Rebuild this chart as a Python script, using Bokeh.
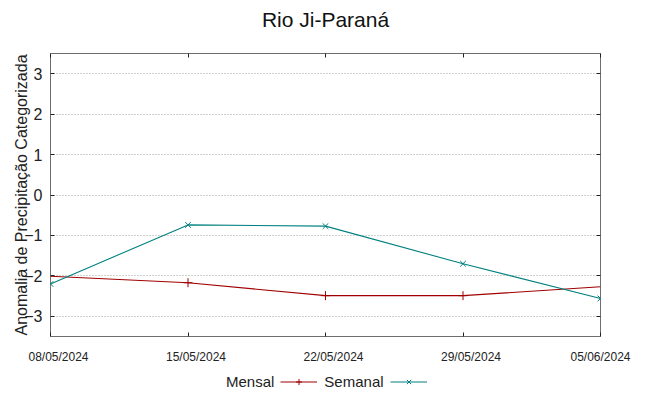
import pandas as pd
from bokeh.plotting import figure
from bokeh.layouts import column
from bokeh.models import (Range1d, LinearAxis, DatetimeAxis, FixedTicker, DatetimeTickFormatter,
                          Legend, LegendItem, Label)
from bokeh.embed import file_html
from bokeh.resources import INLINE

# ---- data ----
dates = ["2024-05-08", "2024-05-15", "2024-05-22", "2024-05-29", "2024-06-05"]
mensal = [-2.01, -2.17, -2.49, -2.49, -2.27]
semanal = [-2.20, -0.74, -0.77, -1.70, -2.56]
y_ticks = [-3, -2, -1, 0, 1, 2, 3]
title_text = "Rio Ji-Paraná"
y_label = "Anomalia de Precipitação Categorizada"
series_names = ["Mensal", "Semanal"]

x = pd.to_datetime(dates)
x_ms = [int(t.value // 10**6) for t in x]

RED = "#a00000"
TEAL = "#008080"
FONT = "Liberation Sans"
TXT = "#222222"

FRAME_W = 550
span = x_ms[-1] - x_ms[0]
shift = 8 * span / FRAME_W  # gnuplot draws date labels ~8px right of ticks
# label positions: shifted right (same calendar day); the last one must stay inside the range
label_ticks = [t + shift for t in x_ms[:-1]] + [x_ms[-1]]


def strip(h, yr):
    f = figure(width=649, height=h, output_backend="svg", toolbar_location=None,
               x_range=Range1d(0, 1), y_range=Range1d(0, yr),
               x_axis_location=None, y_axis_location=None,
               min_border_left=0, min_border_right=0, min_border_top=0, min_border_bottom=0)
    f.grid.visible = False
    f.outline_line_color = None
    return f


# ---- title strip ----
tf = strip(36, 36)
tf.add_layout(Label(x=0.5, y=17.5, text=title_text, text_align="center",
                    text_baseline="middle", text_font=FONT, text_font_size="21px",
                    text_color="#111111"))

# ---- main plot ----
p = figure(width=649, height=330, output_backend="svg", toolbar_location=None,
           x_axis_type="datetime",
           x_range=Range1d(x_ms[0], x_ms[-1]), y_range=Range1d(-3.5, 3.5),
           min_border_left=50, min_border_right=49, min_border_top=17, min_border_bottom=30)

p.outline_line_color = "#6e6e6e"
p.outline_line_width = 1

p.xgrid.visible = False
p.ygrid.ticker = FixedTicker(ticks=y_ticks)
p.ygrid.grid_line_color = "#a0a0a0"
p.ygrid.grid_line_dash = "1 2"
p.ygrid.grid_line_width = 1

ya = p.yaxis[0]
ya.ticker = FixedTicker(ticks=y_ticks)
ya.major_tick_in = 4
ya.major_tick_out = 0
ya.minor_tick_in = 0
ya.minor_tick_out = 0
ya.axis_line_color = None
ya.major_tick_line_color = TXT
ya.major_label_text_font = FONT
ya.major_label_text_font_size = "16px"
ya.major_label_text_color = TXT
ya.major_label_standoff = 8
ya.axis_label = y_label
ya.axis_label_text_font = FONT
ya.axis_label_text_font_size = "16px"
ya.axis_label_text_font_style = "normal"
ya.axis_label_text_color = TXT
ya.axis_label_standoff = -9

xa = p.xaxis[0]
xa.ticker = FixedTicker(ticks=x_ms)
xa.major_tick_in = 4
xa.major_tick_out = 0
xa.minor_tick_in = 0
xa.minor_tick_out = 0
xa.axis_line_color = None
xa.major_tick_line_color = TXT
xa.major_label_text_font_size = "0px"
xa.major_label_standoff = 0

xl = DatetimeAxis(ticker=FixedTicker(ticks=label_ticks),
                  formatter=DatetimeTickFormatter(hours="%d/%m/%Y", days="%d/%m/%Y",
                                                  months="%d/%m/%Y"))
xl.axis_line_color = None
xl.major_tick_line_color = None
xl.minor_tick_line_color = None
xl.major_tick_in = 0
xl.major_tick_out = 0
xl.major_label_text_font = FONT
xl.major_label_text_font_size = "12px"
xl.major_label_text_color = TXT
xl.major_label_standoff = 13
p.add_layout(xl, "below")

ra = LinearAxis(ticker=FixedTicker(ticks=y_ticks), major_tick_in=4, major_tick_out=0,
                minor_tick_in=0, minor_tick_out=0, axis_line_color=None,
                major_tick_line_color=TXT, major_label_text_font_size="0px",
                major_label_standoff=0)
p.add_layout(ra, "right")
ta = DatetimeAxis(ticker=FixedTicker(ticks=x_ms), major_tick_in=4, major_tick_out=0,
                  minor_tick_in=0, minor_tick_out=0, axis_line_color=None,
                  major_tick_line_color=TXT, major_label_text_font_size="0px",
                  major_label_standoff=0)
p.add_layout(ta, "above")

p.line(x, mensal, line_color=RED, line_width=1.1)
p.scatter(x[1:-1], mensal[1:-1], marker="cross", size=9, line_color=RED, line_width=1)
p.line(x, semanal, line_color=TEAL, line_width=1.1)
p.scatter(x, semanal, marker="x", size=8, line_color=TEAL, line_width=1)

# ---- legend strip (gnuplot order: "Mensal" [sample]  "Semanal" [sample]) ----
lf = strip(30, 1)
blank = lf.line(x, mensal, line_alpha=0)
r_ml = lf.line(x, mensal, line_color=RED, line_width=1.1)
r_ms = lf.scatter(x, mensal, marker="cross", size=9, line_color=RED, line_width=1)
r_sl = lf.line(x, semanal, line_color=TEAL, line_width=1.1)
r_ss = lf.scatter(x, semanal, marker="x", size=8, line_color=TEAL, line_width=1)

legend = Legend(items=[LegendItem(label=series_names[0], renderers=[blank]),
                       LegendItem(label=series_names[1], renderers=[r_ml, r_ms]),
                       LegendItem(label=" ", renderers=[r_sl, r_ss])],
                location=(132, 6), orientation="horizontal",
                glyph_width=37, glyph_height=15, label_width=0, label_standoff=7,
                padding=0, margin=0, spacing=6,
                border_line_color=None, background_fill_alpha=0,
                label_text_font=FONT, label_text_font_size="15px", label_text_color=TXT)
lf.add_layout(legend)

layout = column(tf, p, lf, spacing=0)
open("out.html", "w").write(file_html(layout, INLINE))
